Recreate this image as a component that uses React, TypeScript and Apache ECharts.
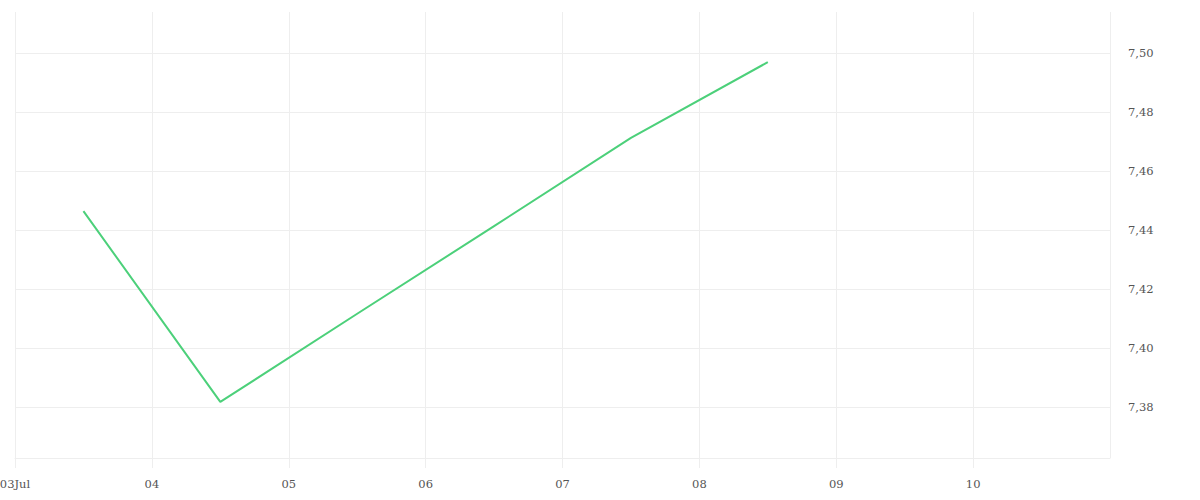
import * as echarts from 'echarts';
import { useEffect, useRef } from 'react';

const DAY = 86400000;

// timestamps (UTC, noon of each day) and values
const dates = [
  Date.UTC(2023, 6, 3, 12),
  Date.UTC(2023, 6, 4, 12),
  Date.UTC(2023, 6, 5, 12),
  Date.UTC(2023, 6, 6, 12),
  Date.UTC(2023, 6, 7, 12),
  Date.UTC(2023, 6, 8, 12),
];
const values = [7.4464, 7.3817, 7.4116, 7.4413, 7.4712, 7.4969];

const xMin = Date.UTC(2023, 6, 3);
const xMax = Date.UTC(2023, 6, 11);
const yMin = 7.3627;
const yMax = 7.5139;

const gridColor = '#eeeeee';
const lineColor = '#4cd07a';
const labelColor = '#555';
const fontFamily = 'DejaVu Serif, serif';

const LineChart = () => {
  const chartRef = useRef(null);

  useEffect(() => {
    document.body.style.margin = '0';
    const chart = echarts.init(chartRef.current, null, { renderer: 'svg' });

    const option = {
      animation: false,
      grid: {
        left: 15,
        right: 90,
        top: 12,
        bottom: 42,
        containLabel: false,
        outerBoundsMode: 'none',
      },
      xAxis: {
        type: 'value',
        min: xMin,
        max: xMax,
        interval: DAY,
        axisLine: { show: true, lineStyle: { color: gridColor } },
        axisTick: { show: true, length: 10, lineStyle: { color: gridColor } },
        splitLine: { show: true, lineStyle: { color: gridColor } },
        axisLabel: {
          color: labelColor,
          fontFamily,
          fontSize: 11.5,
          margin: 20,
          showMaxLabel: false,
          formatter: (v: number, i: number) => {
            const d = new Date(v);
            const dd = String(d.getUTCDate()).padStart(2, '0');
            return i === 0 ? dd + 'Jul' : dd;
          },
        },
      },
      yAxis: {
        type: 'value',
        position: 'right',
        min: yMin,
        max: yMax,
        splitNumber: 8,
        axisLine: { show: false },
        axisTick: { show: false },
        splitLine: {
          show: true,
          showMaxLine: false,
          lineStyle: { color: gridColor },
        },
        axisLabel: {
          color: labelColor,
          fontFamily,
          fontSize: 11.5,
          margin: 18,
          showMinLabel: false,
          showMaxLabel: false,
          formatter: (v: number) => v.toFixed(2).replace('.', ','),
        },
      },
      series: [
        {
          type: 'line',
          data: dates.map((t, i) => [t, values[i]]),
          showSymbol: false,
          lineStyle: { color: lineColor, width: 2 },
          itemStyle: { color: lineColor },
        },
      ],
    };

    chart.setOption(option);

    return () => {
      chart.dispose();
    };
  }, []);

  return <div ref={chartRef} style={{ height: '500px', width: '1200px' }} />;
};

export default function App() {
  return <LineChart />;
}
